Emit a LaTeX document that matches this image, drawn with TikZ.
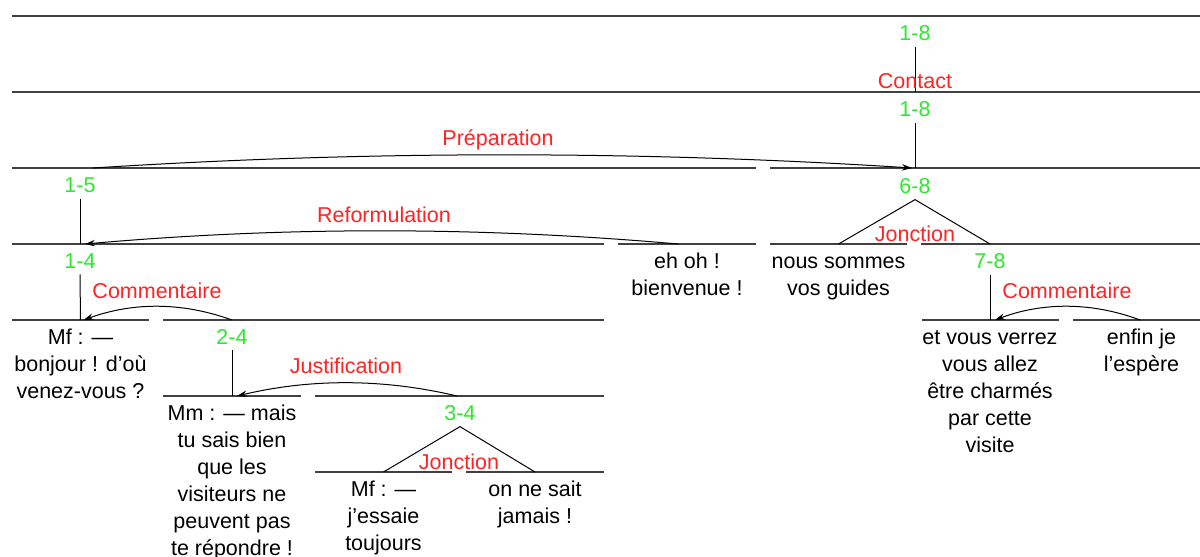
\documentclass[tikz,border=0pt]{standalone}
\usepackage{fontspec}
\setmainfont{Liberation Sans}
\usepackage{xcolor}
\usetikzlibrary{calc,arrows.meta}

\definecolor{spangreen}{RGB}{40,235,40}
\definecolor{relred}{RGB}{255,35,35}

\begin{document}
\begin{tikzpicture}[x=0.5pt, y=-0.5pt,
    font=\fontsize{10.75}{13.5}\selectfont,
    spanline/.style={draw=black!75, line width=0.6pt},
    branch/.style={draw=black, line width=0.5pt},
    spanlabel/.style={text=spangreen, anchor=base, inner sep=3pt},
    rellabel/.style={text=relred, anchor=base, inner sep=0pt},
    leaf/.style={anchor=north, align=center, inner sep=0pt},
    rel/.style={->, >={Stealth[length=5pt,width=3.2pt]}, line width=0.5pt}]

    \useasboundingbox (0,0) rectangle (1200,557);

    % Span lines
    \draw[spanline] (12,16) -- (1200,16);
    \draw[spanline] (12,92) -- (1200,92);
    \draw[spanline] (12,168) -- (756,168) (770,168) -- (1200,168);
    \draw[spanline] (12,244) -- (604,244) (618,244) -- (756,244)
        (770,244) -- (907,244) (921,244) -- (1200,244);
    \draw[spanline] (12,320) -- (149,320) (163,320) -- (604,320)
        (922,320) -- (1059,320) (1073,320) -- (1200,320);
    \draw[spanline] (163,396) -- (301,396) (315,396) -- (604,396);
    \draw[spanline] (315,472) -- (452,472) (466,472) -- (604,472);

    % Heads on the span lines
    \coordinate (top) at (915,16);
    \coordinate (h18) at (915,92);
    \coordinate (h15) at (80,168);
    \coordinate (h68) at (915,168);
    \coordinate (h14) at (80,244);
    \coordinate (h5) at (687,244);
    \coordinate (h6) at (838.5,244);
    \coordinate (h78) at (990,244);
    \coordinate (h1) at (80.5,320);
    \coordinate (h24) at (232,320);
    \coordinate (h7) at (990,320);
    \coordinate (h8) at (1141.5,320);
    \coordinate (h2) at (232,396);
    \coordinate (h34) at (460,396);
    \coordinate (h3) at (383.5,472);
    \coordinate (h4) at (535,472);

    % Span labels
    \node[spanlabel] (s18a) at ($(top)+(0,24)$) {1-8};
    \node[spanlabel] (s18b) at ($(h18)+(0,24)$) {1-8};
    \node[spanlabel] (s15) at ($(h15)+(0,24)$) {1-5};
    \node[spanlabel] (s68) at ($(h68)+(0,25)$) {6-8};
    \node[spanlabel] (s14) at ($(h14)+(0,24)$) {1-4};
    \node[spanlabel] (s78) at ($(h78)+(0,24)$) {7-8};
    \node[spanlabel] (s24) at ($(h24)+(0,24)$) {2-4};
    \node[spanlabel] (s34) at ($(h34)+(0,24)$) {3-4};

    % Branches
    \draw[branch] (s18a.south) -- (h18);
    \draw[branch] (s18b.south) -- (h68);
    \draw[branch] (s15.south) -- (h14);
    \draw[branch] (h6) -- (s68.south) -- (h78);
    \draw[branch] (s14.south) -- (h1);
    \draw[branch] (s78.south) -- (h7);
    \draw[branch] (s24.south) -- (h2);
    \draw[branch] (h3) -- (s34.south) -- (h4);

    % Leaves
    \node[leaf] (u1) at ($(h1)+(0,5)$) {\strut Mf : —\\bonjour ! d’où\\venez-vous ?};
    \node[leaf] (u2) at ($(h2)+(0,5)$) {\strut Mm : — mais\\tu sais bien\\que les\\visiteurs ne\\peuvent pas\\te répondre !};
    \node[leaf] (u3) at ($(h3)+(0,5)$) {\strut Mf : —\\j’essaie\\toujours};
    \node[leaf] (u4) at ($(h4)+(0,5)$) {\strut on ne sait\\jamais !};
    \node[leaf] (u5) at ($(h5)+(0,5)$) {\strut eh oh !\\bienvenue !};
    \node[leaf] (u6) at ($(h6)+(0,5)$) {\strut nous sommes\\vos guides};
    \node[leaf] (u7) at ($(h7)+(0,5)$) {\strut et vous verrez\\vous allez\\être charmés\\par cette\\visite};
    \node[leaf] (u8) at ($(h8)+(0,5)$) {\strut enfin je\\l’espère};

    % Relations
    \node[rellabel] (contact) at ($(h18)+(0,-4)$) {Contact};
    \draw[rel] ($(h15)+(13,0)$) .. controls +(273,-17.5) and +(-273,-17.5) .. ($(h68)+(-3,0)$);
    \node[rellabel] (prep) at (498,145) {Préparation};
    \node[rellabel] (jonc68) at ($(h68)+(0,73)$) {Jonction};
    \draw[rel] ($(h5)+(-9,0)$) .. controls +(-198,-17.5) and +(198,-17.5) .. ($(h14)+(5,0)$);
    \node[rellabel] (reform) at (384,222) {Reformulation};
    \draw[rel] (h24) .. controls +(-50,-18) and +(50,-18) .. ($(h1)+(3,0)$);
    \node[rellabel] (comm1) at (157,298) {Commentaire};
    \draw[rel] ($(h8)+(-1.5,0)$) .. controls +(-48,-18) and +(48,-18) .. ($(h7)+(5,0)$);
    \node[rellabel] (comm2) at (1067,298) {Commentaire};
    \draw[rel] ($(h34)+(-3,0)$) .. controls +(-74,-17.5) and +(74,-17.5) .. ($(h2)+(5,0)$);
    \node[rellabel] (justif) at (346,373) {Justification};
    \node[rellabel] (jonc34) at ($(h34)+(-1,73)$) {Jonction};
\end{tikzpicture}
\end{document}
